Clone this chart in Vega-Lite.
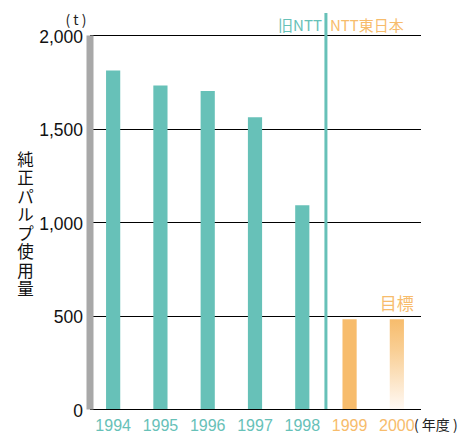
{
  "$schema": "https://vega.github.io/schema/vega-lite/v6.json",
  "width": 331,
  "height": 374,
  "autosize": {"type": "none"},
  "padding": {"left": 89.5, "top": 35, "right": 47.5, "bottom": 26},
  "title": {
    "text": "( t )",
    "anchor": "start",
    "frame": "group",
    "align": "center",
    "baseline": "middle",
    "dx": -13.5,
    "dy": 24,
    "offset": 0,
    "fontSize": 14,
    "fontWeight": "normal",
    "font": "Noto Sans CJK JP",
    "color": "#222222"
  },
  "config": {"view": {"stroke": null}, "font": "Liberation Sans"},
  "data": {
    "values": [
      {"year": "1994", "usage": 1810, "org": "旧NTT"},
      {"year": "1995", "usage": 1730, "org": "旧NTT"},
      {"year": "1996", "usage": 1700, "org": "旧NTT"},
      {"year": "1997", "usage": 1560, "org": "旧NTT"},
      {"year": "1998", "usage": 1090, "org": "旧NTT"},
      {"year": "1999", "usage": 480, "org": "NTT東日本"},
      {"year": "2000", "usage": 480, "org": "NTT東日本"}
    ]
  },
  "layer": [
    {
      "transform": [{"filter": "datum.year != '2000'"}],
      "mark": {"type": "bar"},
      "encoding": {
        "x": {
          "field": "year",
          "type": "ordinal",
          "scale": {"paddingInner": 0.7, "paddingOuter": 0.35},
          "axis": {
            "labelAngle": 0,
            "ticks": false,
            "domainColor": "#000000",
            "domainWidth": 1,
            "labelFontSize": 16,
            "labelPadding": 8,
            "labelColor": {
              "condition": {"test": "datum.value == '1999' || datum.value == '2000'", "value": "#f7bc6c"},
              "value": "#67c1b8"
            },
            "title": "( 年度 )",
            "titleFont": "Noto Sans CJK JP",
            "titleFontSize": 14,
            "titleFontWeight": "normal",
            "titleColor": "#222222",
            "titleX": 324,
            "titleY": 16,
            "titleAlign": "left",
            "titleBaseline": "middle"
          }
        },
        "y": {
          "field": "usage",
          "type": "quantitative",
          "scale": {"domain": [0, 2000]},
          "axis": {
            "values": [0, 500, 1000, 1500, 2000],
            "format": ",.0f",
            "grid": true,
            "gridColor": "#000000",
            "gridWidth": 1,
            "domainColor": "#a8a8a8",
            "domainWidth": 7,
            "ticks": false,
            "labelFontSize": 17.5,
            "labelColor": "#111111",
            "labelPadding": 7,
            "labelOffset": 2,
            "title": ["純", "正", "パ", "ル", "プ", "使", "用", "量"],
            "titleFont": "Noto Sans CJK JP",
            "titleFontSize": 16.5,
            "titleFontWeight": "normal",
            "titleColor": "#111111",
            "titleAngle": 0,
            "titleLineHeight": 18.5,
            "titleAlign": "center",
            "titleBaseline": "top",
            "titleX": -64.5,
            "titleY": 117
          }
        },
        "color": {
          "field": "org",
          "type": "nominal",
          "scale": {"domain": ["旧NTT", "NTT東日本"], "range": ["#67c1b8", "#f7bc6c"]},
          "legend": null
        }
      }
    },
    {
      "transform": [{"filter": "datum.year == '2000'"}],
      "mark": {
        "type": "bar",
        "fill": {
          "gradient": "linear",
          "x1": 0, "y1": 0, "x2": 0, "y2": 1,
          "stops": [
            {"offset": 0, "color": "#f7bc6c"},
            {"offset": 0.35, "color": "#f9cf95"},
            {"offset": 1, "color": "#fff9f4"}
          ]
        }
      },
      "encoding": {
        "x": {"field": "year", "type": "ordinal"},
        "y": {"field": "usage", "type": "quantitative"}
      }
    },
    {
      "data": {"values": [{"year": "1999"}]},
      "mark": {"type": "rule", "color": "#67c1b8", "strokeWidth": 3, "clip": false},
      "encoding": {
        "x": {"field": "year", "type": "ordinal", "bandPosition": -1.1667},
        "y": {"datum": 0},
        "y2": {"datum": 2118}
      }
    },
    {
      "data": {"values": [{"year": "1999", "label": "旧NTT"}]},
      "mark": {"type": "text", "align": "right", "baseline": "middle", "dx": -4, "fontSize": 15, "font": "Noto Sans CJK JP", "color": "#67c1b8"},
      "encoding": {
        "x": {"field": "year", "type": "ordinal", "bandPosition": -1.1667},
        "y": {"datum": 2050},
        "text": {"field": "label"}
      }
    },
    {
      "data": {"values": [{"year": "1999", "label": "NTT東日本"}]},
      "mark": {"type": "text", "align": "left", "baseline": "middle", "dx": 4, "fontSize": 15, "font": "Noto Sans CJK JP", "color": "#f7bc6c"},
      "encoding": {
        "x": {"field": "year", "type": "ordinal", "bandPosition": -1.1667},
        "y": {"datum": 2050},
        "text": {"field": "label"}
      }
    },
    {
      "data": {"values": [{"year": "2000", "usage": 500, "label": "目標"}]},
      "mark": {"type": "text", "baseline": "bottom", "dy": -2, "fontSize": 17, "font": "Noto Sans CJK JP", "color": "#f7bc6c"},
      "encoding": {
        "x": {"field": "year", "type": "ordinal"},
        "y": {"field": "usage", "type": "quantitative"},
        "text": {"field": "label"}
      }
    }
  ]
}
